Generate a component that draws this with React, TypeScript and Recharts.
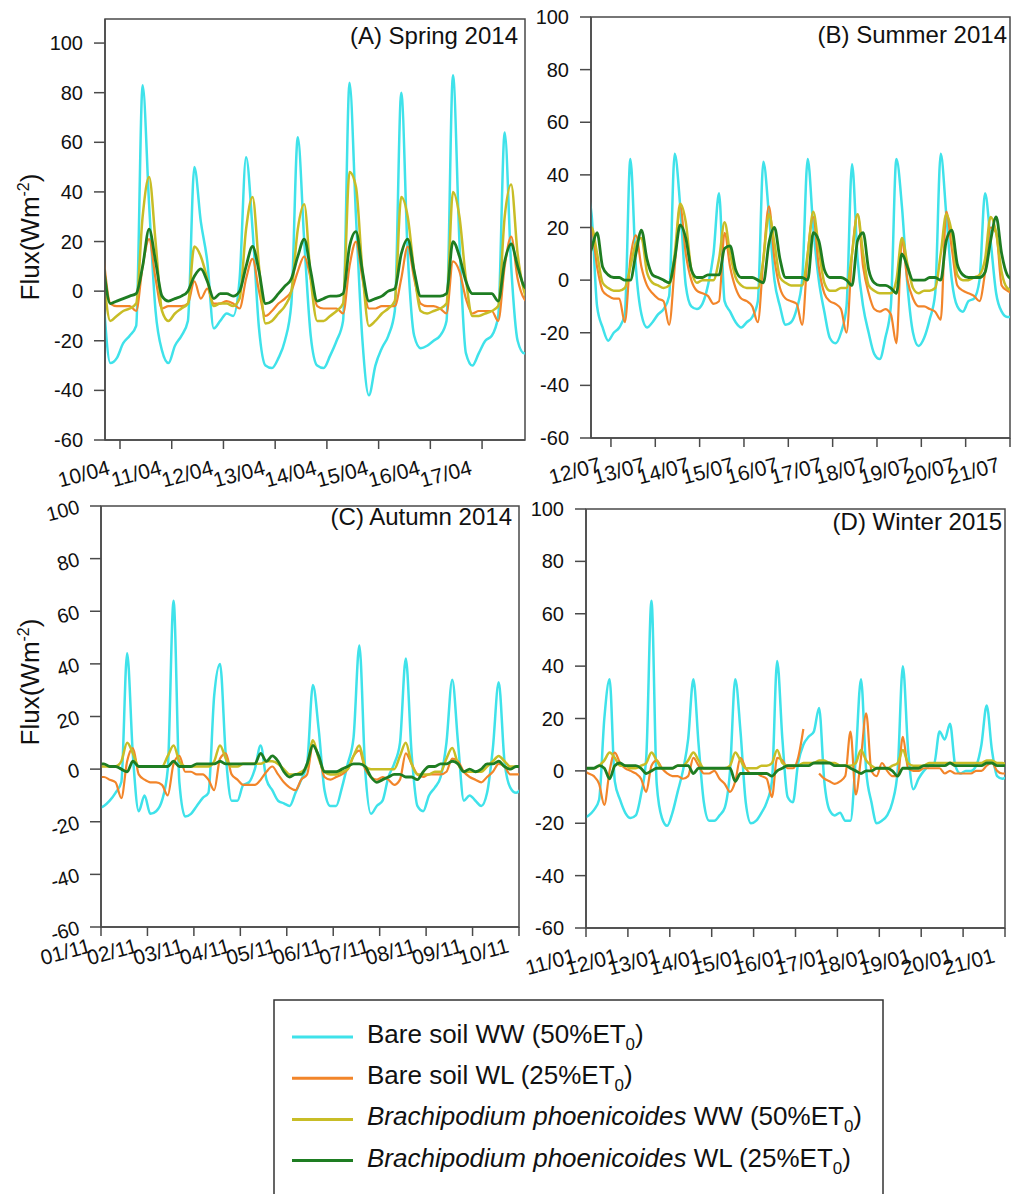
import React from 'react';
import { LineChart, Line, XAxis, YAxis, ReferenceArea } from 'recharts';

const FONT = '"Liberation Sans", Arial, Helvetica, sans-serif';
const STEP = 0.125; // 3-hourly samples, in days
const AXIS = '#4a4a4a';
const COLORS = { bareWW: '#3FE2EA', bareWL: '#F2852A', brachWW: '#C8BD26', brachWL: '#1E7D22' };

// ---------- (A) Spring 2014 ----------
const A_START = -0.3125;
const A_TICK_LABELS = ['10/04', '11/04', '12/04', '13/04', '14/04', '15/04', '16/04', '17/04'];
const A_bareWW = [-5, -29, -27,
  -21, -18, -14, 83, 35, -8, -24, -29,
  -22, -18, -12, 50, 28, 12, -15, -12,
  -9, -10, 5, 54, 25, -15, -30, -31,
  -27, -20, -5, 62, 20, -18, -30, -31,
  -26, -20, -12, 84, 30, -20, -42, -30,
  -23, -18, -8, 80, 15, -18, -23, -22,
  -20, -18, -12, 87, 20, -25, -30, -25,
  -20, -18, -10, 64, 10, -20, -25, -25];
const A_bareWL = [13, -5, -6,
  -6, -6, -8, 10, 21, 5, -7, -6,
  -6, -6, -5, 4, -3, 1, -5, -5,
  -4, -5, -7, 5, 13, 0, -10, -8,
  -5, -3, 0, 8, 14, 5, -6, -7,
  -7, -7, -9, 10, 20, 5, -7, -7,
  -6, -6, -6, 5, 18, 5, -5, -6,
  -6, -7, -9, 12, 8, -3, -9, -8,
  -8, -8, -12, 10, 22, 5, -3, -5];
const A_brachWW = [5, -12, -10,
  -8, -7, -5, 30, 46, 20, -8, -12,
  -9, -7, -5, 18, 14, 5, -6, -5,
  -5, -6, -3, 25, 38, 10, -13, -12,
  -9, -6, 0, 25, 35, 5, -12, -12,
  -10, -8, -5, 48, 42, 8, -14, -12,
  -9, -7, -4, 38, 30, 8, -8, -9,
  -8, -7, -5, 40, 30, 5, -10, -10,
  -9, -8, -6, 30, 43, 15, 0, -5];
const A_brachWL = [9, -5, -4,
  -3, -2, -1, 10, 25, 12, -2, -4,
  -3, -2, 0, 6, 9, 4, -3, -1,
  -1, -2, 0, 10, 18, 8, -5, -4,
  -1, 2, 5, 14, 21, 8, -4, -3,
  -2, -2, -1, 18, 24, 8, -4, -3,
  -2, 0, 1, 15, 21, 8, -2, -2,
  -2, -2, -1, 20, 14, 4, -1, -1,
  -1, -1, -4, 12, 19, 10, 2, 0];

// ---------- (B) Summer 2014 ----------
const B_START = -0.5625;
const B_TICK_LABELS = ['12/07', '13/07', '14/07', '15/07', '16/07', '17/07', '18/07', '19/07', '20/07', '21/07'];
const B_bareWW = [35, 25, -10, -18, -23,
  -20, -18, -13, 46, 5, -13, -18, -16,
  -13, -11, -6, 48, 28, -2, -10, -11,
  -9, -2, 10, 33, -8, -12, -16, -18,
  -16, -14, -8, 45, 25, 0, -10, -17,
  -16, -11, 0, 46, 20, 0, -12, -22,
  -24, -20, -10, 44, 8, -10, -20, -28,
  -30, -22, -10, 46, 28, -2, -20, -25,
  -22, -15, -5, 48, 25, 0, -10, -12,
  -8, -7, 0, 33, 15, -5, -12, -14,
  -14];
const B_bareWL = [15, 19, 5, -4, -6,
  -7, -7, -16, 8, 17, 5, -2, -5,
  -7, -8, -17, 5, 28, 10, 0, -4,
  -5, -6, -9, -8, 18, 5, -3, -7,
  -8, -10, -16, 8, 28, 8, -3, -7,
  -8, -9, -17, 10, 24, 5, -5, -8,
  -9, -11, -20, 10, 25, 5, -5, -11,
  -12, -11, -13, -24, 15, 0, -7, -10,
  -10, -11, -12, -15, 26, 12, -2, -4,
  -5, -6, -8, 3, 20, 18, -2, -4,
  -5];
const B_brachWW = [15, 20, 10, -1, -3,
  -4, -4, -3, 5, 14, 16, 3, -1,
  -2, -3, -2, 10, 29, 22, 4, -1,
  0, 0, 0, 8, 22, 10, 1, -2,
  -3, -3, -3, 8, 25, 14, 1, -1,
  -2, -2, -2, 10, 26, 12, -1, -4,
  -4, -3, -3, 10, 25, 10, -2, -4,
  -5, -5, -5, 0, 16, 6, -3, -5,
  -4, -4, -3, 10, 25, 18, 2, 0,
  0, 1, 2, 8, 24, 18, 3, -3,
  -4];
const B_brachWL = [5, 12, 18, 5, 2,
  1, 1, 0, 0, 10, 19, 8, 2,
  1, 0, -1, 8, 21, 16, 4, 1,
  1, 2, 2, 2, 12, 13, 4, 1,
  1, 1, 0, -1, 14, 20, 8, 1,
  1, 1, 1, 0, 18, 15, 4, 1,
  1, 1, 0, -2, 15, 18, 4, -1,
  -2, -2, -3, -5, 10, 5, 0, 0,
  0, 1, 1, 0, 15, 19, 6, 2,
  1, 1, 1, 3, 15, 24, 10, 2,
  0];

// ---------- (C) Autumn 2014 ----------
const C_START = -0.0625;
const C_TICK_LABELS = ['01/11', '02/11', '03/11', '04/11', '05/11', '06/11', '07/11', '08/11', '09/11', '10/11'];
const C_bareWW = [-15,
  -14, -12, -9, -5, 44, 5, -16, -10,
  -17, -16, -12, 0, 64, -5, -18, -17,
  -14, -11, -9, 28, 40, 5, -12, -12,
  -6, -5, 0, 9, -4, -8, -12, -13,
  -14, -9, -4, 2, 32, 15, -8, -14,
  -14, -7, 2, 12, 47, 0, -17, -14,
  -12, -3, 2, 10, 42, 6, -14, -16,
  -10, -7, -3, 10, 34, 10, -12, -10,
  -12, -14, -9, 8, 33, 3, -7, -9,
  -7];
const C_bareWL = [-3,
  -3, -4, -5, -11, 3, 8, -2, -4,
  -5, -5, -6, -10, 2, 5, -1, -1,
  -2, -2, -4, -8, 4, 6, -2, -4,
  -6, -6, -6, -4, -1, 1, -2, -5,
  -7, -8, -4, -2, 9, 5, -3, -4,
  -3, -2, 0, 5, 7, 0, -3, -4,
  -3, -4, -6, -4, 6, 2, -2, -3,
  -2, -2, -2, -1, 4, 3, -1, -3,
  -4, -5, -3, -1, 2, 1, -2, -2,
  -2];
const C_brachWW = [1,
  1, 1, 1, 3, 10, 6, 1, 1,
  1, 1, 1, 5, 9, 3, 1, 1,
  1, 1, 1, 3, 9, 4, 1, 1,
  2, 2, 2, 2, 3, 3, 2, 0,
  -2, -2, -1, 1, 11, 4, -1, -2,
  -2, -1, 0, 5, 9, 1, 0, 0,
  0, 0, 0, 5, 10, 2, -2, -2,
  -2, -1, -1, 4, 8, 2, -1, -1,
  -1, -1, 1, 3, 5, 3, 1, 1,
  1];
const C_brachWL = [2,
  2, 1, 1, 0, -1, 3, 1, 1,
  1, 1, 1, 1, 3, 1, 1, 1,
  2, 2, 2, 2, 3, 2, 2, 2,
  2, 2, 2, 6, 3, 5, 3, -1,
  -3, -2, -2, 2, 9, 5, -1, -1,
  -1, 0, 1, 2, 2, 1, -3, -5,
  -4, -3, -2, -2, -3, -3, -4, -1,
  1, 1, 2, 2, 3, 2, -1, 0,
  -1, 0, 2, 2, 3, 1, 0, 1,
  1];

// ---------- (D) Winter 2015 ----------
const D_START = -0.0625;
const D_TICK_LABELS = ['11/01', '12/01', '13/01', '14/01', '15/01', '16/01', '17/01', '18/01', '19/01', '20/01', '21/01'];
const D_bareWW = [-18,
  -17, -15, -11, 20, 35, -4, -11, -16,
  -18, -17, -9, 5, 65, -5, -18, -21,
  -16, -8, 0, 12, 35, 10, -12, -19,
  -19, -17, -14, 0, 35, 15, -12, -20,
  -19, -16, -12, -4, 42, 12, -10, -12,
  3, 10, 13, 15, 24, -4, -15, -17,
  -16, -19, -19, 5, 35, 0, -12, -20,
  -19, -17, -12, 0, 40, 8, -7, -3,
  0, 2, 3, 15, 12, 18, 2, -1,
  0, 0, 2, 10, 25, 8, -2, -3,
  -2];
const D_bareWL = [0,
  -1, -2, -5, -13, 0, 7, 3, 1,
  0, -1, -3, -8, 2, 4, 1, -1,
  -2, -2, -3, -2, 5, 2, -1, -1,
  0, -3, -5, -8, -4, 5, 1, -1,
  -1, -2, -3, -10, 5, 4, 1, 1,
  5, 16, null, null, -1, -3, -4, -5,
  -4, -2, 15, -9, 5, 22, 0, -2,
  3, 0, -2, -2, 13, 1, 0, 0,
  1, 1, 1, 1, -1, 0, -1, -1,
  -1, -1, 0, 0, 2, 3, 0, -1,
  -1];
const D_brachWW = [1,
  1, 1, 2, 4, 7, 5, 2, 2,
  1, 1, 2, 3, 7, 4, 1, 1,
  1, 2, 2, 4, 7, 4, 1, 1,
  1, 1, 1, 2, 7, 4, 1, 1,
  1, 2, 2, 3, 8, 3, 2, 2,
  2, 3, 3, 3, 4, 4, 3, 3,
  2, 2, 2, 3, 8, 4, 2, 1,
  1, 1, 2, 3, 8, 3, 2, 2,
  2, 3, 3, 3, 3, 3, 3, 3,
  3, 3, 3, 3, 4, 4, 3, 3,
  2];
const D_brachWL = [1,
  1, 1, 2, 1, -3, 2, 3, 2,
  2, 2, 1, -1, 0, 1, 1, 1,
  1, 2, 2, 2, -1, 1, 1, 1,
  1, 1, 1, 1, -4, -1, -1, -1,
  -1, -1, -1, -2, 0, 1, 2, 2,
  2, 2, 2, 3, 3, 3, 3, 2,
  2, 2, 1, 0, -1, 0, 0, 1,
  1, 1, 0, -2, 1, 1, 1, 1,
  2, 2, 2, 2, 2, 3, 2, 2,
  2, 2, 2, 2, 3, 3, 2, 2,
  2];

const Y_TICKS = [-60, -40, -20, 0, 20, 40, 60, 80, 100];

function buildRows(start: number, ww: any[], wl: any[], bww: any[], bwl: any[]) {
  return ww.map((v, i) => ({
    t: start + i * STEP,
    bareWW: v,
    bareWL: wl[i],
    brachWW: bww[i],
    brachWL: bwl[i],
  }));
}

const PANELS = [
  {
    key: 'A', left: 0, top: 0, width: 540, height: 500,
    margin: { top: 19, right: 15, bottom: 20, left: 45 },
    xDomain: [-0.29, 7.83], yDomain: [-60, 109.7],
    labels: A_TICK_LABELS, labelDy: 25, rotateY: false,
    rows: buildRows(A_START, A_bareWW, A_bareWL, A_brachWW, A_brachWL),
  },
  {
    key: 'B', left: 520, top: 0, width: 492, height: 500,
    margin: { top: 17, right: 2, bottom: 22, left: 11 },
    xDomain: [-0.45, 9.0], yDomain: [-60, 100],
    labels: B_TICK_LABELS, labelDy: 24, rotateY: false,
    rows: buildRows(B_START, B_bareWW, B_bareWL, B_brachWW, B_brachWL),
  },
  {
    key: 'C', left: 0, top: 480, width: 540, height: 500,
    margin: { top: 26, right: 21, bottom: 13, left: 41 },
    xDomain: [0, 9], yDomain: [-60, 100],
    labels: C_TICK_LABELS, labelDy: 16, rotateY: true,
    rows: buildRows(C_START, C_bareWW, C_bareWL, C_brachWW, C_brachWL),
  },
  {
    key: 'D', left: 520, top: 480, width: 492, height: 500,
    margin: { top: 29, right: 7, bottom: 12, left: 6 },
    xDomain: [0, 10], yDomain: [-60, 100],
    labels: D_TICK_LABELS, labelDy: 25, rotateY: false,
    rows: buildRows(D_START, D_bareWW, D_bareWL, D_brachWW, D_brachWL),
  },
];

const TITLES = [
  { text: '(A) Spring 2014', x: 518, y: 44 },
  { text: '(B) Summer 2014', x: 1007, y: 43 },
  { text: '(C) Autumn 2014', x: 512, y: 525 },
  { text: '(D) Winter 2015', x: 1002, y: 530 },
];

const Y_LABELS = [
  { x: 39, y: 237 },
  { x: 39, y: 682 },
];

const LEGEND_ITEMS = [
  { color: COLORS.bareWW, italic: '', rest: 'Bare soil WW (50%ET', tail: ')' },
  { color: COLORS.bareWL, italic: '', rest: 'Bare soil WL (25%ET', tail: ')' },
  { color: COLORS.brachWW, italic: 'Brachipodium phoenicoides', rest: ' WW (50%ET', tail: ')' },
  { color: COLORS.brachWL, italic: 'Brachipodium phoenicoides', rest: ' WL (25%ET', tail: ')' },
];

const XTick = (props: any) => {
  const { x, y, payload, labels, labelDy } = props;
  const ax = x - 9;
  const ay = y + labelDy;
  const label = labels[Math.round(payload.value)];
  return (
    <text x={ax} y={ay} textAnchor="end" fontSize={21} fontFamily={FONT} fill="#111"
      transform={`rotate(-15, ${ax}, ${ay})`}>
      {label}
    </text>
  );
};

const YTick = (props: any) => {
  const { x, y, payload, rotate } = props;
  return (
    <text x={x} y={y} dy={7} textAnchor="end" fontSize={20} fontFamily={FONT} fill="#111"
      transform={rotate ? `rotate(-15, ${x}, ${y})` : undefined}>
      {payload.value}
    </text>
  );
};

function Panel({ p }: { p: any }) {
  return (
    <div style={{ position: 'absolute', left: p.left, top: p.top }}>
      <LineChart width={p.width} height={p.height} data={p.rows} margin={p.margin}>
        <XAxis
          dataKey="t" type="number" domain={p.xDomain} allowDataOverflow
          ticks={p.labels.map((_: string, i: number) => i)} interval={0}
          height={40} tickSize={9} tickMargin={0}
          axisLine={{ stroke: AXIS, strokeWidth: 1.5 }} tickLine={{ stroke: AXIS, strokeWidth: 1.5 }}
          tick={<XTick labels={p.labels} labelDy={p.labelDy} />}
        />
        <YAxis
          type="number" domain={p.yDomain} allowDataOverflow ticks={Y_TICKS} interval={0}
          width={60} tickSize={11} tickMargin={11}
          axisLine={{ stroke: AXIS, strokeWidth: 1.5 }} tickLine={{ stroke: AXIS, strokeWidth: 1.5 }}
          tick={<YTick rotate={p.rotateY} />}
        />
        <ReferenceArea x1={p.xDomain[0]} x2={p.xDomain[1]} y1={p.yDomain[0]} y2={p.yDomain[1]}
          fill="none" stroke={AXIS} strokeWidth={1.5} ifOverflow="visible" />
        <Line type="monotone" dataKey="bareWW" stroke={COLORS.bareWW} strokeWidth={2.5} dot={false} isAnimationActive={false} strokeLinejoin="round" />
        <Line type="monotone" dataKey="bareWL" stroke={COLORS.bareWL} strokeWidth={2.2} dot={false} isAnimationActive={false} strokeLinejoin="round" />
        <Line type="monotone" dataKey="brachWW" stroke={COLORS.brachWW} strokeWidth={2.5} dot={false} isAnimationActive={false} strokeLinejoin="round" />
        <Line type="monotone" dataKey="brachWL" stroke={COLORS.brachWL} strokeWidth={2.8} dot={false} isAnimationActive={false} strokeLinejoin="round" />
      </LineChart>
    </div>
  );
}

export default function App() {
  return (
    <div style={{ position: 'absolute', left: 0, top: 0, width: 1012, height: 1194, overflow: 'hidden', background: '#fff', fontFamily: FONT }}>
      {PANELS.map((p) => <Panel key={p.key} p={p} />)}
      <svg width={1012} height={1194} style={{ position: 'absolute', left: 0, top: 0, pointerEvents: 'none' }}>
        {TITLES.map((t) => (
          <text key={t.text} x={t.x} y={t.y} textAnchor="end" fontSize={24} fontFamily={FONT} fill="#111">{t.text}</text>
        ))}
        {Y_LABELS.map((l, i) => (
          <text key={i} x={l.x} y={l.y} textAnchor="middle" fontSize={26} fontFamily={FONT} fill="#111"
            transform={`rotate(-90, ${l.x}, ${l.y})`}>
            Flux(Wm<tspan dy={-10} fontSize={16}>-2</tspan><tspan dy={10}>)</tspan>
          </text>
        ))}
        <rect x={274} y={1000} width={609} height={220} fill="none" stroke="#333" strokeWidth={1.5} />
        {LEGEND_ITEMS.map((it, i) => {
          const cy = 1037 + i * 41.2;
          return (
            <g key={i}>
              <line x1={292} x2={353} y1={cy} y2={cy} stroke={it.color} strokeWidth={3} />
              <text x={367} y={cy + 6} fontSize={26} fontFamily={FONT} fill="#111">
                {it.italic ? <tspan fontStyle="italic">{it.italic}</tspan> : null}
                <tspan>{it.rest}</tspan>
                <tspan dy={7} fontSize={17}>0</tspan>
                <tspan dy={-7}>{it.tail}</tspan>
              </text>
            </g>
          );
        })}
      </svg>
    </div>
  );
}
